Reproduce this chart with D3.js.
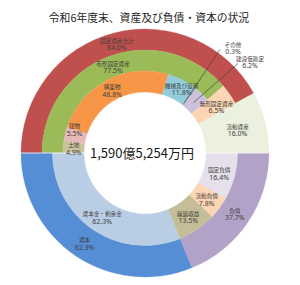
<!DOCTYPE html>
<html><head><meta charset="utf-8">
<script src="https://cdn.jsdelivr.net/npm/d3@7"></script>
<style>body{margin:0;background:#fff}svg{display:block}</style>
</head><body><svg id="c" width="300" height="285"></svg>
<script>
// ---------- data ----------
const title = "令和6年度末、資産及び負債・資本の状況";
const totalLabel = "1,590億5,254万円";
// Assets (top half), % of total assets
const assetOuterNames = ["固定資産合計", "流動資産"];
const assetOuterValues = [84.0, 16.0];
const assetMiddleNames = ["有形固定資産", "無形固定資産"];
const assetMiddleValues = [77.5, 6.5];
const assetInnerNames = ["土地", "建物", "構築物", "機械及び装置", "その他", "建設仮勘定"];
const assetInnerValues = [4.9, 5.5, 48.8, 11.8, 0.3, 6.2];
// Liabilities & equity (bottom half)
const liabOuterNames = ["負債", "資本"];
const liabOuterValues = [37.7, 62.3];
const liabInnerNames = ["固定負債", "流動負債", "繰延収益", "資本金・剰余金"];
const liabInnerValues = [16.4, 7.8, 13.5, 62.3];

// ---------- style ----------
const colors = {
  "固定資産合計": "#c0504d", "流動資産": "#ebf1de",
  "有形固定資産": "#9bbb59", "無形固定資産": "#fcd5b4",
  "土地": "#c9c29d", "建物": "#e6b9b8", "構築物": "#f79646",
  "機械及び装置": "#93cddd", "その他": "#8f8f8f", "建設仮勘定": "#ccc1da",
  "負債": "#b3a2c7", "資本": "#558ed5",
  "固定負債": "#e6e0ec", "流動負債": "#fcd5b4", "繰延収益": "#c4bd97", "資本金・剰余金": "#b9cde5"
};
const outsideLabels = {
  "その他": {x: 233, y: 47, lx: 220, ly: 49.5, rEnd: 63},
  "建設仮勘定": {x: 250, y: 61, lx: 238, ly: 63.5, rEnd: 70}
};
const labelShift = {"建物": [-1, -7], "機械及び装置": [4, -1], "無形固定資産": [4, 0], "流動資産": [3, -1]};
const cx = 145, cy = 153, R = 124, r0 = 61;
const textColor = "#404040";

const svg = d3.select("#c");
svg.append("text").attr("x", 149).attr("y", 22).attr("text-anchor", "middle")
  .attr("font-family", "'Noto Sans CJK JP'").attr("font-size", 10.8).attr("fill", "#262626")
  .text(title);

const g = svg.append("g").attr("transform", `translate(${cx},${cy})`);
const angTop = d3.scaleLinear().domain([0, 100]).range([-Math.PI / 2, Math.PI / 2]);
const angBot = d3.scaleLinear().domain([0, 100]).range([Math.PI / 2, Math.PI * 3 / 2]);

function buildLevels(levels, ang) {
  const n = levels.length;
  const rad = d3.scaleLinear().domain([0, n]).range([R, r0]);
  const segs = [];
  const cum = levels.map(([names, vals]) => {
    let s = 0;
    return names.map((nm, i) => { const o = {name: nm, value: vals[i], s0: s, s1: s + vals[i]}; s += vals[i]; return o; });
  });
  cum.forEach((lev, li) => {
    lev.forEach(seg => {
      let depth = li + 1;
      while (depth < n && !cum[depth].some(c => c.s0 >= seg.s0 - 1e-6 && c.s0 < seg.s1 - 1e-6)) depth++;
      segs.push({...seg, a0: ang(seg.s0), a1: ang(seg.s1), outer: rad(li), inner: rad(depth)});
    });
  });
  return segs;
}

const segs = [
  ...buildLevels([[assetOuterNames, assetOuterValues], [assetMiddleNames, assetMiddleValues], [assetInnerNames, assetInnerValues]], angTop),
  ...buildLevels([[liabOuterNames, liabOuterValues], [liabInnerNames, liabInnerValues]], angBot)
];

const arc = d3.arc().startAngle(d => d.a0).endAngle(d => d.a1)
  .innerRadius(d => d.inner).outerRadius(d => d.outer);

g.selectAll("path.seg").data(segs).join("path").attr("class", "seg")
  .attr("d", arc).attr("fill", d => colors[d.name])
  .attr("stroke", d => colors[d.name]).attr("stroke-width", 0.3);

// thin white divider between the two halves
g.append("line").attr("x1", -R - 1).attr("x2", R + 1).attr("y1", 0).attr("y2", 0)
  .attr("stroke", "#fff").attr("stroke-width", 0.8);

// labels
segs.forEach(d => {
  const o = outsideLabels[d.name];
  let x, y;
  if (o) {
    const am = (d.a0 + d.a1) / 2;
    g.append("line").attr("x1", o.lx - cx).attr("y1", o.ly - cy)
      .attr("x2", Math.sin(am) * o.rEnd).attr("y2", -Math.cos(am) * o.rEnd)
      .attr("stroke", "#404040").attr("stroke-width", 0.7);
    x = o.x - cx; y = o.y - cy;
  } else {
    [x, y] = arc.centroid(d);
    const sh = labelShift[d.name];
    if (sh) { x += sh[0]; y += sh[1]; }
  }
  g.append("text").attr("x", x).attr("y", y - 0.5).attr("text-anchor", "middle")
    .attr("font-family", "'Noto Sans CJK JP'").attr("font-size", 5.6).attr("fill", textColor)
    .text(d.name);
  g.append("text").attr("x", x).attr("y", y + 7).attr("text-anchor", "middle")
    .attr("font-family", "'Noto Sans', sans-serif").attr("font-size", 7).attr("fill", textColor)
    .text(d.value.toFixed(1) + "%");
});

g.append("text").attr("x", -3).attr("y", 4.5).attr("text-anchor", "middle")
  .attr("font-family", "'Noto Sans CJK JP'").attr("font-size", 13).attr("fill", "#1a1a1a")
  .text(totalLabel);
</script></body></html>
